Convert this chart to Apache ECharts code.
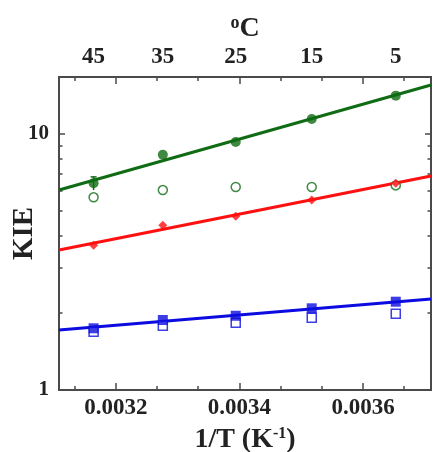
<!DOCTYPE html>
<html>
<head>
<meta charset="utf-8">
<script src="https://cdn.jsdelivr.net/npm/echarts@6/dist/echarts.min.js"></script>
<style>
  html, body { margin: 0; padding: 0; background: #fff; }
  #chart { width: 433px; height: 452px; }
</style>
</head>
<body>
<div id="chart"></div>
<script>
// 1/T (K^-1) of the five temperatures
var invT = [0.003164, 0.003276, 0.003394, 0.003517, 0.003653]
var tempLabels = ['45', '35', '25', '15', '5']

// KIE values
var greenFilled = [6.42, 8.30, 9.30, 11.45, 14.12]
var greenOpen = [5.66, 6.04, 6.21, 6.21, 6.30]
var redFilled = [3.68, 4.40, 4.77, 5.52, 6.42]
var blueFilled = [1.742, 1.877, 1.95, 2.085, 2.213]
var blueOpen = [1.689, 1.783, 1.832, 1.916, 1.987]

// fitted lines, value at the two ends of the x range
var xRange = [0.003108, 0.00371]
var greenFit = [6.04, 15.54]
var redFit = [3.52, 6.85]
var blueFit = [1.715, 2.267]

// error bar on first green point
var greenErr = [[0.003164, 6.04, 6.80]]

// ticks
var xMajor = [0.0032, 0.0034, 0.0036]
var xMinor = [0.0031333, 0.0032667, 0.0033333, 0.0034667, 0.0035333, 0.0036667]
var yMajor = [1, 10]
var yMinor = [2, 3, 4, 5, 6, 7, 8, 9]

var GREEN = '#0f6b14'
var RED = '#ff1010'
var BLUE = '#0c0ce0'
var FRAME = '#4a4a4a'
var FONT = 'Liberation Serif'

function pair(ys) {
  return invT.map(function (x, i) { return [x, ys[i]] })
}
function fit(ys) {
  return [[xRange[0], ys[0]], [xRange[1], ys[1]]]
}

function xAxisBase(pos, ticks, len) {
  return {
    type: 'value',
    position: pos,
    min: xRange[0],
    max: xRange[1],
    splitLine: { show: false },
    axisLine: { show: true, lineStyle: { color: FRAME, width: 2 } },
    axisTick: { show: true, inside: true, length: len, customValues: ticks, lineStyle: { color: FRAME, width: 1.5 } },
    axisLabel: { show: false }
  }
}
function yAxisBase(pos, ticks, len) {
  return {
    type: 'log',
    position: pos,
    min: 1,
    max: 16.7,
    splitLine: { show: false },
    axisLine: { show: true, lineStyle: { color: FRAME, width: 2 } },
    axisTick: { show: true, inside: true, length: len, customValues: ticks, lineStyle: { color: FRAME, width: 1.5 } },
    axisLabel: { show: false }
  }
}

var xBottom = xAxisBase('bottom', xMajor, 7)
xBottom.axisLabel = {
  show: true,
  customValues: xMajor,
  margin: 7,
  fontFamily: FONT, fontWeight: 'bold', fontSize: 23, color: '#222',
  formatter: function (v) { return v.toFixed(4) }
}
xBottom.name = '{m|1/T (K}{s|-1}{m|)}'
xBottom.nameLocation = 'middle'
xBottom.nameGap = 36
xBottom.nameMoveOverlap = false
xBottom.nameTextStyle = {
  rich: {
    m: { fontFamily: FONT, fontWeight: 'bold', fontSize: 28, color: '#222' },
    s: { fontFamily: FONT, fontWeight: 'bold', fontSize: 16, color: '#222', verticalAlign: 'top', padding: [0, 0, 12, 0] }
  }
}

var xTop = xAxisBase('top', xMajor, 7)
xTop.axisLabel = {
  show: true,
  customValues: invT,
  margin: 8,
  fontFamily: FONT, fontWeight: 'bold', fontSize: 23, color: '#222',
  formatter: function (v) {
    var best = 0
    invT.forEach(function (x, i) { if (Math.abs(x - v) < Math.abs(invT[best] - v)) best = i })
    return tempLabels[best]
  }
}
xTop.name = '{o|o}{c|C}'
xTop.nameLocation = 'middle'
xTop.nameGap = 33
xTop.nameMoveOverlap = false
xTop.nameTextStyle = {
  rich: {
    o: { fontFamily: FONT, fontWeight: 'bold', fontSize: 18, color: '#222', verticalAlign: 'top', padding: [0, 0, 12, 0] },
    c: { fontFamily: FONT, fontWeight: 'bold', fontSize: 28, color: '#222' }
  }
}

var yLeft = yAxisBase('left', yMajor, 6)
yLeft.axisLabel = {
  show: true,
  customValues: yMajor,
  margin: 10,
  fontFamily: FONT, fontWeight: 'bold', fontSize: 21, color: '#222'
}
yLeft.name = 'KIE'
yLeft.nameLocation = 'middle'
yLeft.nameRotate = 90
yLeft.nameGap = 20
yLeft.nameMoveOverlap = false
yLeft.nameTextStyle = { fontFamily: FONT, fontWeight: 'bold', fontSize: 29, color: '#222' }

var option = {
  animation: false,
  backgroundColor: '#fff',
  grid: { left: 59, right: 2, top: 77, bottom: 62, outerBoundsMode: 'none', containLabel: false },
  xAxis: [xBottom, xTop, xAxisBase('bottom', xMinor, 4), xAxisBase('top', xMinor, 4)],
  yAxis: [yLeft, yAxisBase('right', yMajor, 6), yAxisBase('left', yMinor, 3.5), yAxisBase('right', yMinor, 3.5)],
  series: [
    { type: 'line', data: fit(greenFit), showSymbol: false, lineStyle: { color: GREEN, width: 3 }, z: 2 },
    { type: 'line', data: fit(redFit), showSymbol: false, lineStyle: { color: RED, width: 3 }, z: 2 },
    { type: 'line', data: fit(blueFit), showSymbol: false, lineStyle: { color: BLUE, width: 3 }, z: 2 },
    {
      type: 'custom',
      z: 3,
      data: greenErr,
      renderItem: function (params, api) {
        var p1 = api.coord([api.value(0), api.value(1)])
        var p2 = api.coord([api.value(0), api.value(2)])
        return {
          type: 'group',
          children: [
            { type: 'line', shape: { x1: p1[0], y1: p1[1], x2: p2[0], y2: p2[1] }, style: { stroke: GREEN, lineWidth: 1.5 } },
            { type: 'line', shape: { x1: p2[0] - 3, y1: p2[1], x2: p2[0] + 3, y2: p2[1] }, style: { stroke: GREEN, lineWidth: 1.5 } }
          ]
        }
      }
    },
    { type: 'scatter', data: pair(greenOpen), symbol: 'circle', symbolSize: 9, itemStyle: { color: '#fff', borderColor: GREEN, borderWidth: 1.5 }, z: 4 },
    { type: 'scatter', data: pair(greenFilled), symbol: 'circle', symbolSize: 10, itemStyle: { color: GREEN }, z: 5 },
    { type: 'scatter', data: pair(redFilled), symbol: 'diamond', symbolSize: 9, itemStyle: { color: RED }, z: 5 },
    { type: 'scatter', data: pair(blueOpen), symbol: 'rect', symbolSize: 9, itemStyle: { color: '#fff', borderColor: BLUE, borderWidth: 1.5 }, z: 4 },
    { type: 'scatter', data: pair(blueFilled), symbol: 'rect', symbolSize: 10, itemStyle: { color: BLUE }, z: 5 }
  ]
}

var myChart = echarts.init(document.getElementById('chart'))
myChart.setOption(option)
</script>
</body>
</html>
